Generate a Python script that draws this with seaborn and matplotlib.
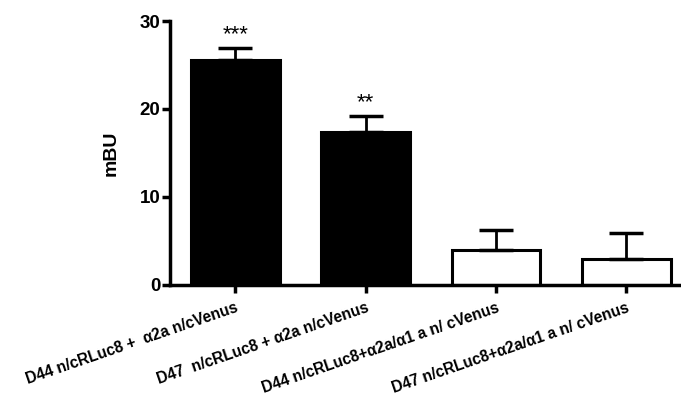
import matplotlib
matplotlib.use("Agg")
import matplotlib.pyplot as plt
import seaborn as sns
import pandas as pd

categories = [
    "D44 n/cRLuc8 +  \u03b12a n/cVenus",
    "D47  n/cRLuc8 + \u03b12a n/cVenus",
    "D44 n/cRLuc8+\u03b12a/\u03b11 a n/ cVenus",
    "D47 n/cRLuc8+\u03b12a/\u03b11 a n/ cVenus",
]
means = [25.6, 17.4, 4.0, 2.95]
errors = [1.35, 1.85, 2.3, 3.0]
stars = ["***", "**", "", ""]
fills = ["black", "black", "white", "white"]

sns.set_style("ticks")
plt.rcParams["font.family"] = ["Liberation Sans", "DejaVu Sans"]
for key in ["text.color", "axes.labelcolor", "xtick.color", "ytick.color",
            "axes.edgecolor"]:
    plt.rcParams[key] = "black"

df = pd.DataFrame({"group": categories, "mBU": means})

fig = plt.figure(figsize=(6.81, 4.04), dpi=100)
ax = fig.add_axes([0.2496, 0.2946, 0.7504, 0.6534])

sns.barplot(data=df, x="group", y="mBU", hue="group", palette=fills,
            edgecolor="black", linewidth=2.2, width=0.68, legend=False, ax=ax)

xs = list(range(len(categories)))
ax.errorbar(xs, means, yerr=[[0] * len(errors), errors], fmt="none",
            ecolor="black", elinewidth=2, capsize=12.5, capthick=2.5, zorder=1)

for x, m, e, s in zip(xs, means, errors, stars):
    if s:
        ax.text(x, m + e + 2.7, s, ha="center", va="top", fontsize=16)

ax.set_ylim(0, 30)
ax.set_xlim(-0.502, 3.42)
ax.set_yticks([0, 10, 20, 30])
ax.set_xlabel("")
ax.set_ylabel("mBU", fontsize=14, fontweight="bold", labelpad=14)

for side in ["top", "right"]:
    ax.spines[side].set_visible(False)
for side in ["left", "bottom"]:
    ax.spines[side].set_linewidth(2.5)
ax.tick_params(axis="both", width=2.5, length=6, direction="out", color="black")
ax.tick_params(axis="y", labelsize=13.5, pad=1)
ax.tick_params(axis="x", pad=5)
for lbl in ax.get_yticklabels():
    lbl.set_fontweight("bold")
ax.set_xticks(xs)
ax.set_xticklabels(categories, rotation=19, ha="right", rotation_mode="anchor",
                   fontsize=11.2, fontweight="bold")

fig.savefig("out.png", dpi=100)
